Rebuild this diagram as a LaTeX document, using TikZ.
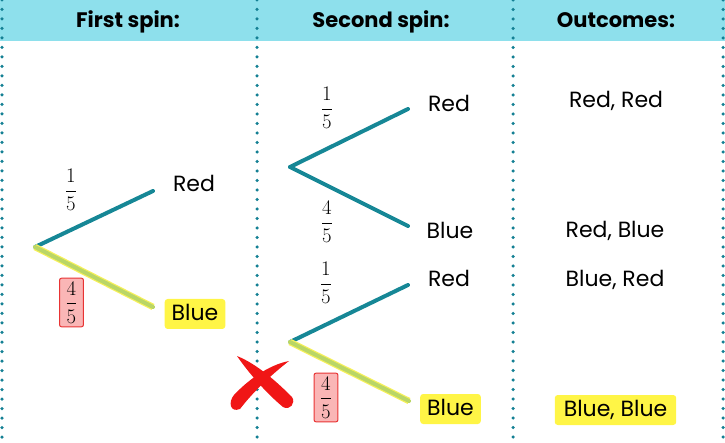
\documentclass[tikz,border=0pt]{standalone}
\usepackage{amsmath}
\usepackage[no-math]{fontspec}
\setmainfont{Poppins}
\usepackage{tikz}

\definecolor{headcyan}{RGB}{142,224,236}
\definecolor{branchteal}{RGB}{22,135,150}
\definecolor{dotteal}{RGB}{20,128,148}
\definecolor{pickgreen}{RGB}{186,214,102}
\definecolor{glowyellow}{RGB}{246,240,90}
\definecolor{markyellow}{RGB}{255,245,70}
\definecolor{boxred}{RGB}{232,52,52}
\definecolor{boxpink}{RGB}{250,182,182}
\definecolor{crossred}{RGB}{240,22,22}

\begin{document}
\begin{tikzpicture}[x=1pt, y=-1pt,
    branch/.style={draw=branchteal, line width=4pt, line cap=round},
    picked/.style={draw=pickgreen, line width=4pt, line cap=round,
                   preaction={draw=glowyellow, line width=6.5pt}},
    divider/.style={draw=dotteal, line width=3.5pt, line cap=round,
                    dash pattern=on 0pt off 9.5pt},
    head node/.style={anchor=base, inner sep=0pt, font=\fontsize{21}{25}\selectfont\bfseries},
    label node/.style={anchor=base, inner sep=0pt, font=\fontsize{22}{26}\selectfont},
    pick box/.style={label node, fill=markyellow, rounded corners=3pt,
                     inner xsep=7pt, inner ysep=4pt, text height=17pt, text depth=5pt},
    frac node/.style={inner sep=0pt, font=\fontsize{20.5}{24}\selectfont},
    frac box/.style={frac node, draw=boxred, fill=boxpink, line width=1pt,
                     rounded corners=2pt, inner xsep=6pt, inner ysep=3.5pt}]

  \useasboundingbox (0,0) rectangle (725,443);

  % header band and column dividers
  \fill[headcyan] (0,0) rectangle (725,41);
  \foreach \x in {2,257,513,723}
    \draw[divider] (\x,0) -- (\x,443);

  \node[head node] (h1) at (128,28) {First spin:};
  \node[head node] (h2) at (381,28) {Second spin:};
  \node[head node] (h3) at (616,28) {Outcomes:};

  % first spin
  \coordinate (a0) at (35,247);
  \coordinate (a1) at (153,191);
  \coordinate (a2) at (153,307);
  \draw[branch] (a0) -- (a1);
  \draw[picked] (a0) -- (a2);
  \node[frac node] (fa1) at (71,190) {$\dfrac{1}{5}$};
  \node[frac box] (fa2) at (71.5,302.5) {$\dfrac{4}{5}$};
  \node[label node] (ra) at (194,192) {Red};
  \node[pick box] (ba) at (195,320) {Blue};

  % second spin, after red
  \coordinate (b0) at (290,167);
  \coordinate (b1) at (408,109);
  \coordinate (b2) at (408,226);
  \draw[branch] (b0) -- (b1);
  \draw[branch] (b0) -- (b2);
  \node[frac node] (fb1) at (327,108) {$\dfrac{1}{5}$};
  \node[frac node] (fb2) at (327,222) {$\dfrac{4}{5}$};
  \node[label node] (rb) at (449,111.5) {Red};
  \node[label node] (bb) at (450,239) {Blue};

  % second spin, after blue
  \coordinate (c0) at (290,342);
  \coordinate (c1) at (408,285);
  \coordinate (c2) at (409,401);
  \draw[branch] (c0) -- (c1);
  \draw[picked] (c0) -- (c2);
  \node[frac node] (fc1) at (326,283) {$\dfrac{1}{5}$};
  \node[frac box] (fc2) at (326,397.5) {$\dfrac{4}{5}$};
  \node[label node] (rc) at (449,286.5) {Red};
  \node[pick box] (bc) at (450.5,415) {Blue};

  % crossed out
  \fill[crossred] (237,356) .. controls (257,364) and (277,382) .. (292,397)
    .. controls (296,403) and (290,411) .. (283,407)
    .. controls (266,393) and (248,372) .. cycle;
  \fill[crossred] (289,361) .. controls (268,365) and (247,381) .. (234,395)
    .. controls (228,402) and (230,413) .. (240,409)
    .. controls (253,392) and (271,375) .. cycle;

  % outcomes
  \node[label node] (o1) at (616,107.7) {Red, Red};
  \node[label node] (o2) at (615,237.7) {Red, Blue};
  \node[label node] (o3) at (615,286.7) {Blue, Red};
  \node[pick box, inner xsep=9pt] (o4) at (615.5,416) {Blue, Blue};
\end{tikzpicture}
\end{document}
